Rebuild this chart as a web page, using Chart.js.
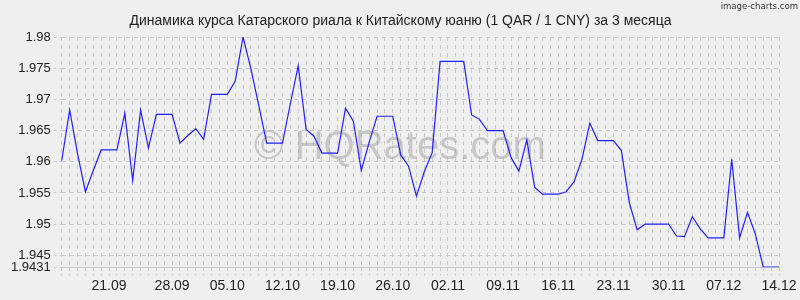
<!DOCTYPE html>
<html>
<head>
<meta charset="utf-8">
<script src="https://cdn.jsdelivr.net/npm/chart.js@4.4.0/dist/chart.umd.min.js"></script>
<style>
    html, body { margin: 0; padding: 0; background: #efefef; }
    #wrap { position: relative; width: 800px; height: 300px; }
</style>
</head>
<body>
<div id="wrap"><canvas id="rateChart" width="800" height="300"></canvas></div>
<script>
// Chart data
const chartTitle = 'Динамика курса Катарского риала к Китайскому юаню (1 QAR / 1 CNY) за 3 месяца';

const dates = [
    '14.09', '15.09', '16.09', '17.09', '18.09', '19.09', '20.09', '21.09', '22.09', '23.09',
    '24.09', '25.09', '26.09', '27.09', '28.09', '29.09', '30.09',
    '01.10', '02.10', '03.10', '04.10', '05.10', '06.10', '07.10', '08.10', '09.10', '10.10',
    '11.10', '12.10', '13.10', '14.10', '15.10', '16.10', '17.10', '18.10', '19.10', '20.10',
    '21.10', '22.10', '23.10', '24.10', '25.10', '26.10', '27.10', '28.10', '29.10', '30.10', '31.10',
    '01.11', '02.11', '03.11', '04.11', '05.11', '06.11', '07.11', '08.11', '09.11', '10.11',
    '11.11', '12.11', '13.11', '14.11', '15.11', '16.11', '17.11', '18.11', '19.11', '20.11',
    '21.11', '22.11', '23.11', '24.11', '25.11', '26.11', '27.11', '28.11', '29.11', '30.11',
    '01.12', '02.12', '03.12', '04.12', '05.12', '06.12', '07.12', '08.12', '09.12', '10.12',
    '11.12', '12.12', '13.12', '14.12'
];

const rates = [
    1.9602, 1.9683, 1.9613, 1.9552, 1.9586, 1.9619, 1.9619, 1.9619, 1.9678, 1.9570,
    1.9683, 1.9622, 1.9676, 1.9676, 1.9676, 1.9630, 1.9642, 1.9653, 1.9636, 1.9708,
    1.9708, 1.9708, 1.9729, 1.9800, 1.9749, 1.9690, 1.9630, 1.9630, 1.9630, 1.9693,
    1.9754, 1.9652, 1.9641, 1.9614, 1.9614, 1.9614, 1.9686, 1.9665, 1.9586, 1.9631,
    1.9673, 1.9673, 1.9673, 1.9611, 1.9593, 1.9545, 1.9584, 1.9615, 1.9761, 1.9761,
    1.9761, 1.9761, 1.9675, 1.9668, 1.9650, 1.9650, 1.9650, 1.9607, 1.9585, 1.9635,
    1.9559, 1.9548, 1.9548, 1.9548, 1.9552, 1.9568, 1.9604, 1.9662, 1.9634, 1.9634,
    1.9634, 1.9618, 1.9535, 1.9491, 1.9500, 1.9500, 1.9500, 1.9500, 1.9481, 1.9480,
    1.9512, 1.9493, 1.9478, 1.9478, 1.9478, 1.9604, 1.9478, 1.9519, 1.9484, 1.9431,
    1.9431, 1.9431
];

// x labels and the day slot each one sits on (first one sits a day early in the original)
const xTickLabels = ['21.09', '28.09', '05.10', '12.10', '19.10', '26.10', '02.11',
    '09.11', '16.11', '23.11', '30.11', '07.12', '14.12'];
const xTickSlots = [6, 14, 21, 28, 35, 42, 49, 56, 63, 70, 77, 84, 91];
const yTicks = [1.9431, 1.945, 1.95, 1.955, 1.96, 1.965, 1.97, 1.975, 1.98];

const gridColor = '#c9c9c9';
const fontFamily = '"Liberation Sans", Arial, sans-serif';

// title, watermark and corner text
const overlayText = {
    id: 'overlayText',
    beforeDatasetsDraw(chart) {
        const ctx = chart.ctx;
        ctx.save();
        ctx.fillStyle = 'rgba(150, 150, 150, 0.45)';
        ctx.font = '40px ' + fontFamily;
        ctx.textAlign = 'center';
        ctx.textBaseline = 'middle';
        ctx.fillText('© HQRates.com', 400, 148);
        ctx.restore();
    },
    afterDraw(chart) {
        const ctx = chart.ctx;
        ctx.save();
        ctx.fillStyle = '#222';
        ctx.font = '14px ' + fontFamily;
        ctx.textAlign = 'center';
        ctx.textBaseline = 'alphabetic';
        ctx.fillText(chartTitle, 400.5, 25);

        ctx.fillStyle = '#333';
        ctx.font = '9.5px "DejaVu Sans Condensed", "DejaVu Sans", sans-serif';
        ctx.textAlign = 'right';
        ctx.textBaseline = 'middle';
        ctx.fillText('image-charts.com', 798, 7);
        ctx.restore();
    }
};

new Chart(document.getElementById('rateChart'), {
    type: 'line',
    data: {
        labels: dates,
        datasets: [{
            data: rates,
            borderColor: '#2020ff',
            borderWidth: 1.2,
            pointRadius: 0,
            tension: 0,
            fill: false
        }]
    },
    options: {
        responsive: false,
        animation: false,
        layout: {
            padding: { left: 8, right: 21, top: 37, bottom: 2 }
        },
        plugins: {
            legend: { display: false },
            tooltip: { enabled: false },
            title: { display: false }
        },
        scales: {
            x: {
                grid: {
                    color: gridColor,
                    tickLength: 8,
                    tickBorderDash: [3, 3]
                },
                border: { display: true, color: gridColor, dash: [4, 4] },
                ticks: {
                    autoSkip: false,
                    maxRotation: 0,
                    padding: 3,
                    color: '#222',
                    font: { family: fontFamily, size: 14 },
                    callback: (value, index) => {
                        const k = xTickSlots.indexOf(index);
                        return k >= 0 ? xTickLabels[k] : '';
                    }
                }
            },
            y: {
                min: 1.9431,
                max: 1.98,
                afterBuildTicks: axis => {
                    axis.ticks = yTicks.map(v => ({ value: v }));
                },
                grid: {
                    color: gridColor,
                    tickLength: 8,
                    tickBorderDash: [3, 3]
                },
                border: { display: false, dash: [4, 4] },
                ticks: {
                    padding: 3,
                    color: '#222',
                    font: { family: fontFamily, size: 13 },
                    callback: value => String(value)
                }
            }
        }
    },
    plugins: [overlayText]
});
</script>
</body>
</html>
